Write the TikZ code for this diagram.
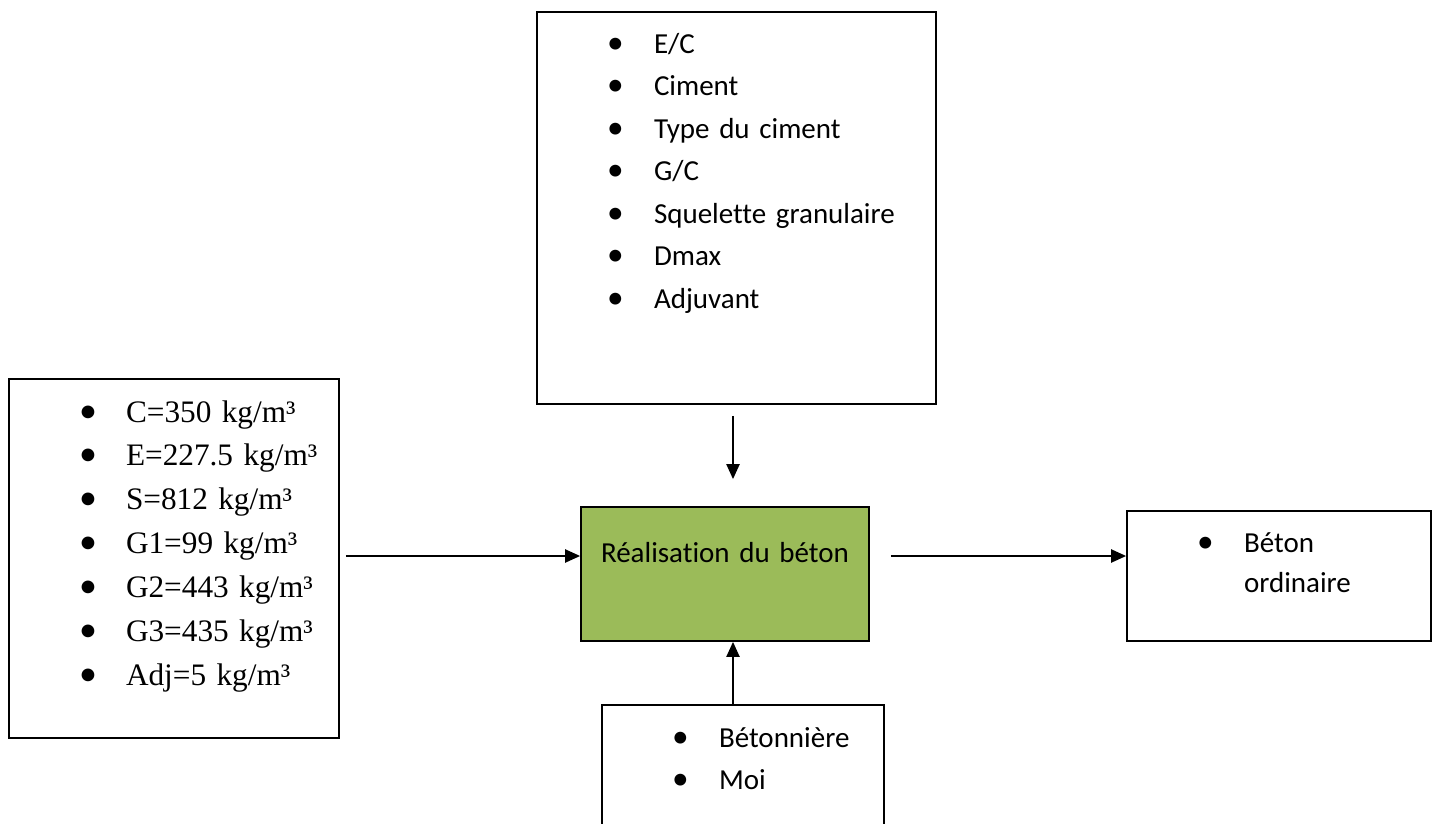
\documentclass[tikz,border=0pt]{standalone}
\usepackage{fontspec}
\setmainfont{Carlito}[Ligatures=NoCommon]
\newfontfamily\tnr{Liberation Serif}
\usetikzlibrary{arrows.meta}
\definecolor{accentgreen}{HTML}{9BBB59}
\newcommand{\itm}{\hspace*{1.4cm}\makebox[0.94cm][l]{\normalfont\scalebox{1.15}{\textbullet}}}

\begin{document}
\begin{tikzpicture}[x=0.02cm,y=-0.02cm,font=\fontsize{16.5}{24.2}\selectfont,
  box/.style={draw,line width=1pt,inner sep=0pt,align=left},
  arr/.style={line width=1.2pt,-{Triangle[length=0.3cm,width=0.26cm]}}]
  \clip (0,0) rectangle (1437,824);
  \node[box,text width=7.98cm,text height=0.82cm,text depth=7.02cm] (ing) at (736.5,208){\itm E/C\\\itm Ciment\\\itm Type du ciment\\\itm G/C\\\itm Squelette granulaire\\\itm Dmax\\\itm Adjuvant};
  \node[box,text width=6.6cm,text height=0.86cm,text depth=6.32cm,font=\fontsize{17.8}{25}\selectfont\tnr] (dos) at (174,558.5){\itm C=350 kg/m³\\\itm E=227.5 kg/m³\\\itm S=812 kg/m³\\\itm G1=99 kg/m³\\\itm G2=443 kg/m³\\\itm G3=435 kg/m³\\\itm Adj=5 kg/m³};
  \node[box,fill=accentgreen,text width=5.76cm,align=center,text height=1.1cm,text depth=1.58cm] (real) at (725,574){Réalisation du béton};
  \node[box,text width=6.08cm,text height=0.82cm,text depth=1.78cm,font=\fontsize{16.5}{23.3}\selectfont] (res) at (1279,576){\itm Béton\\\hspace*{2.34cm}ordinaire};
  \node[box,text width=5.64cm,text height=0.84cm,text depth=2.26cm,font=\fontsize{16.5}{23.9}\selectfont] (moy) at (743,782.5){\itm Bétonnière\\\itm Moi};
  \coordinate (vx) at (733,0);
  \coordinate (hy) at (0,556);
  \draw[arr,shorten <=0.22cm,shorten >=0.54cm] (ing.south -| vx) -- (real.north -| vx);
  \draw[arr] (moy.north -| vx) -- (real.south -| vx);
  \draw[arr,shorten <=0.12cm] (dos.east |- hy) -- (real.west |- hy);
  \draw[arr,shorten <=0.42cm] (real.east |- hy) -- (res.west |- hy);
\end{tikzpicture}
\end{document}
